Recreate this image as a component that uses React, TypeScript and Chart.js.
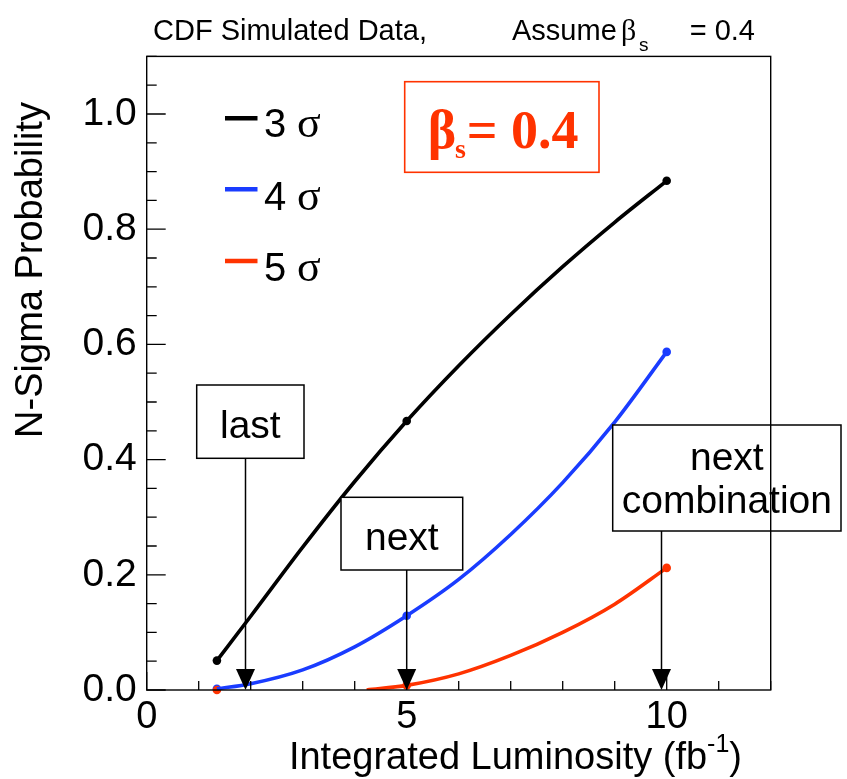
import { useEffect, useRef } from 'react';
import { Chart, registerables } from 'chart.js';

Chart.register(...registerables);

// Simulated points: integrated luminosity (fb^-1) and probability of an N-sigma result
const luminosity = [1.35, 5, 10];
const prob3Sigma = [0.051, 0.467, 0.884];
const prob4Sigma = [0.002, 0.129, 0.587];
const prob5Sigma = [0.0, 0.008, 0.212];

// Smoothed curves through the simulated points
const curve3Lumi = [1.35, 2, 3, 4, 5, 6, 7, 8, 9, 10];
const curve3Prob = [0.051, 0.128, 0.248, 0.362, 0.467, 0.563, 0.652, 0.735, 0.812, 0.884];
const curve4Lumi = [1.35, 2, 3, 4, 5, 6, 7, 8, 9, 10];
const curve4Prob = [0.002, 0.011, 0.035, 0.075, 0.129, 0.192, 0.27, 0.36, 0.465, 0.587];
const curve5Lumi = [4.23, 5, 6, 7, 8, 9, 10];
const curve5Prob = [0.0, 0.008, 0.028, 0.06, 0.1, 0.149, 0.212];

const sigmaLabels = ['3', '4', '5'];
const seriesColors = ['#000000', '#1a3cff', '#ff3300'];

const xTickValues = [0, 5, 10];
const yTickValues = [0, 0.2, 0.4, 0.6, 0.8, 1.0];

// Luminosity milestones pointed at by the labelled arrows
const milestoneLabels = [['last'], ['next'], ['next', 'combination']];
const milestoneLumi = [1.9, 5, 9.9];

const SANS = "'Liberation Sans', Arial, sans-serif";
const SERIF = "'Liberation Serif', 'Times New Roman', serif";
const RED = '#ff3300';

const toPoints = (xs: number[], ys: number[]) => xs.map((x, i) => ({ x, y: ys[i] }));

const overlay = {
  id: 'rootStyleOverlay',
  afterDatasetsDraw(chart: any) {
    const { ctx, scales } = chart;
    const xs = scales.x;
    const ys = scales.y;
    ctx.save();

    // annotation boxes with arrows down to the axis
    const boxes = [
      { l: 196.7, t: 385, r: 304, b: 458.3, base: [438.3] },
      { l: 341, t: 497.3, r: 462.7, b: 570, base: [550] },
      { l: 612.7, t: 425, r: 841, b: 531, base: [470, 512.7] },
    ];
    ctx.lineWidth = 1.5;
    ctx.strokeStyle = '#000';
    boxes.forEach((bx, i) => {
      const ax = xs.getPixelForValue(milestoneLumi[i]);
      ctx.fillStyle = '#fff';
      ctx.fillRect(bx.l, bx.t, bx.r - bx.l, bx.b - bx.t);
      ctx.strokeRect(bx.l, bx.t, bx.r - bx.l, bx.b - bx.t);
      ctx.fillStyle = '#000';
      ctx.font = `39px ${SANS}`;
      ctx.textAlign = 'center';
      ctx.textBaseline = 'alphabetic';
      milestoneLabels[i].forEach((txt, j) => {
        ctx.fillText(txt, (bx.l + bx.r) / 2, bx.base[j]);
      });
      const tip = ys.getPixelForValue(0);
      ctx.beginPath();
      ctx.moveTo(ax, bx.b);
      ctx.lineTo(ax, tip - 20);
      ctx.stroke();
      ctx.beginPath();
      ctx.moveTo(ax - 9.5, tip - 21);
      ctx.lineTo(ax + 9.5, tip - 21);
      ctx.lineTo(ax, tip);
      ctx.closePath();
      ctx.fill();
    });

    ctx.restore();
  },
  afterDraw(chart: any) {
    const { ctx, chartArea: a, scales } = chart;
    const xs = scales.x;
    const ys = scales.y;
    ctx.save();

    // frame
    ctx.strokeStyle = '#000';
    ctx.lineWidth = 1.4;
    ctx.strokeRect(a.left, a.top, a.right - a.left, a.bottom - a.top);

    // inward ticks
    ctx.lineWidth = 1.3;
    ctx.beginPath();
    for (let k = 0; k <= 22; k++) {
      const py = ys.getPixelForValue(k * 0.05);
      const len = k % 4 === 0 ? 19 : 10;
      ctx.moveTo(a.left, py);
      ctx.lineTo(a.left + len, py);
    }
    for (let k = 0; k <= 12; k++) {
      const px = xs.getPixelForValue(k);
      const len = k % 5 === 0 ? 18 : 9;
      ctx.moveTo(px, a.bottom);
      ctx.lineTo(px, a.bottom - len);
    }
    ctx.stroke();

    ctx.fillStyle = '#000';
    ctx.textBaseline = 'alphabetic';

    // title
    ctx.font = `29px ${SANS}`;
    ctx.textAlign = 'left';
    ctx.fillText('CDF Simulated Data,', 153, 40);
    ctx.fillText('Assume', 512, 40);
    ctx.font = `30px ${SERIF}`;
    ctx.fillText('\u03b2', 621, 40);
    ctx.font = `19px ${SANS}`;
    ctx.fillText('s', 639, 51);
    ctx.font = `29px ${SANS}`;
    ctx.textAlign = 'right';
    ctx.fillText('= 0.4', 755, 40);

    // y-axis title
    ctx.save();
    ctx.translate(41.7, 270);
    ctx.rotate(-Math.PI / 2);
    ctx.textAlign = 'center';
    ctx.font = `38px ${SANS}`;
    ctx.fillText('N-Sigma Probability', 0, 0);
    ctx.restore();

    // x-axis title, right-aligned, with superscript
    ctx.textAlign = 'left';
    const main = 'Integrated Luminosity (fb';
    ctx.font = `38px ${SANS}`;
    const w1 = ctx.measureText(main).width;
    const w3 = ctx.measureText(')').width;
    ctx.font = `25px ${SANS}`;
    const w2 = ctx.measureText('-1').width;
    const x0 = 742 - (w1 + w2 + w3);
    ctx.font = `38px ${SANS}`;
    ctx.fillText(main, x0, 769);
    ctx.fillText(')', x0 + w1 + w2, 769);
    ctx.font = `25px ${SANS}`;
    ctx.fillText('-1', x0 + w1, 752);

    // legend
    const legendLineY = [118.3, 189.3, 261];
    const legendBase = [137.3, 209.5, 280.5];
    sigmaLabels.forEach((lab, i) => {
      ctx.strokeStyle = seriesColors[i];
      ctx.lineWidth = 4.5;
      ctx.beginPath();
      ctx.moveTo(225, legendLineY[i]);
      ctx.lineTo(257.5, legendLineY[i]);
      ctx.stroke();
      ctx.fillStyle = '#000';
      ctx.font = `40px ${SANS}`;
      ctx.fillText(lab, 264, legendBase[i]);
      ctx.font = `44px ${SERIF}`;
      ctx.fillText('\u03c3', 297, legendBase[i]);
    });

    // beta_s box
    ctx.strokeStyle = RED;
    ctx.lineWidth = 1.6;
    ctx.strokeRect(404.7, 81.7, 599 - 404.7, 172.3 - 81.7);
    ctx.fillStyle = RED;
    ctx.font = `bold 54px ${SERIF}`;
    ctx.fillText('\u03b2', 427.7, 148.3);
    ctx.font = `bold 28px ${SERIF}`;
    ctx.fillText('s', 455, 158.3);
    ctx.font = `bold 54px ${SERIF}`;
    ctx.fillText('= 0.4', 466.7, 148.3);

    ctx.restore();
  },
};

export default function App() {
  const canvasRef = useRef<HTMLCanvasElement>(null);

  useEffect(() => {
    if (!canvasRef.current) return;
    const curves = [
      toPoints(curve3Lumi, curve3Prob),
      toPoints(curve4Lumi, curve4Prob),
      toPoints(curve5Lumi, curve5Prob),
    ];
    const markers = [prob3Sigma, prob4Sigma, prob5Sigma].map((ys) => toPoints(luminosity, ys));

    const lineSets = curves.map((pts, i) => ({
      label: `${sigmaLabels[i]} sigma`,
      data: pts,
      borderColor: seriesColors[i],
      backgroundColor: seriesColors[i],
      borderWidth: 3.6,
      pointRadius: 0,
      cubicInterpolationMode: 'monotone',
      fill: false,
      clip: 0,
    }));
    const markerSets = markers.map((pts, i) => ({
      label: `${sigmaLabels[i]} sigma points`,
      data: pts,
      borderColor: seriesColors[i],
      backgroundColor: seriesColors[i],
      showLine: false,
      pointRadius: 4.3,
      pointBorderWidth: 0,
      clip: false,
    }));
    const datasets = [...lineSets, markerSets[2], markerSets[1], markerSets[0]];

    const chart = new Chart(canvasRef.current, {
      type: 'line',
      data: { datasets: datasets as any },
      options: {
        animation: false,
        responsive: false,
        devicePixelRatio: 1,
        layout: { padding: { top: 56.4, right: 76.3, left: 0, bottom: 0 } },
        elements: { line: { capBezierPoints: false } },
        plugins: { legend: { display: false }, tooltip: { enabled: false }, title: { display: false } },
        scales: {
          x: {
            type: 'linear',
            min: 0,
            max: 12,
            grid: { display: false, drawTicks: false },
            border: { display: false },
            afterBuildTicks: (s: any) => {
              s.ticks = xTickValues.map((v) => ({ value: v }));
            },
            afterFit: (s: any) => {
              s.height = 89;
            },
            ticks: {
              autoSkip: false,
              maxRotation: 0,
              padding: 5,
              color: '#000',
              font: { family: SANS, size: 38 },
              callback: (v: any) => String(v),
            },
          },
          y: {
            type: 'linear',
            min: 0,
            max: 1.1,
            grid: { display: false, drawTicks: false },
            border: { display: false },
            afterBuildTicks: (s: any) => {
              s.ticks = yTickValues.map((v) => ({ value: v }));
            },
            afterFit: (s: any) => {
              s.width = 146.7;
            },
            ticks: {
              autoSkip: false,
              padding: 10,
              color: '#000',
              font: { family: SANS, size: 39 },
              callback: (v: any) => Number(v).toFixed(1),
            },
          },
        },
      },
      plugins: [overlay],
    });
    return () => chart.destroy();
  }, []);

  return (
    <div style={{ position: 'fixed', left: 0, top: 0, width: 847, height: 779, background: '#fff' }}>
      <canvas ref={canvasRef} width={847} height={779} style={{ display: 'block', width: 847, height: 779 }} />
    </div>
  );
}
